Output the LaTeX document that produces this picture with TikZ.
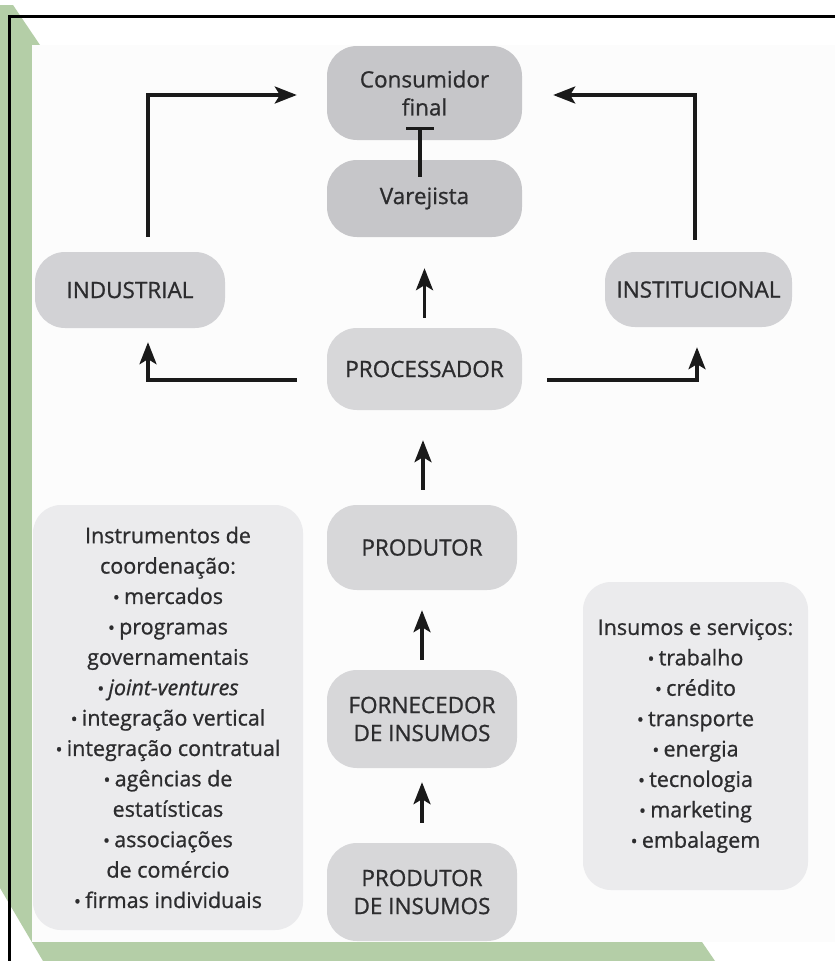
\documentclass[tikz,border=0pt]{standalone}
\usepackage{fontspec}
\setmainfont{Open Sans}[FakeBold=0.9]
\usetikzlibrary{arrows.meta,calc}
\definecolor{grn}{HTML}{B4CEA7}
\definecolor{txt}{HTML}{2C2C2E}
\definecolor{ln}{HTML}{1A1A1A}
\definecolor{dark}{HTML}{C6C6C9}
\definecolor{mid}{HTML}{D2D2D5}
\definecolor{lite}{HTML}{D7D7D9}
\definecolor{info}{HTML}{EBEBED}
\newcommand\bul{\raisebox{0em}{\scalebox{.85}{•}}\hspace{.2em}}
\tikzset{
  box/.style={rounded corners=30pt, inner sep=0pt, align=center, text=txt,
    font=\fontsize{22.5}{28}\selectfont},
  infobox/.style={rounded corners=28pt, inner sep=0pt, align=center, text=txt,
    fill=info, font=\fontsize{21.5}{30.4}\selectfont},
  arr/.style={draw=ln, line width=3.2pt, -{Stealth[length=22pt,width=17pt,inset=5pt]}},
  tbar/.style={draw=ln, line width=3.2pt, -{Bar[width=28pt]}}
}
\begin{document}
\begin{tikzpicture}[x=1pt,y=-1pt]
\useasboundingbox (0,0) rectangle (835,961);
\fill[white] (0,0) rectangle (835,961);
% decorative frame
\fill[grn] (0,5) -- (13,5) -- (40,45) -- (40,942) -- (702,942) -- (715,961) -- (43,961) -- (0,888) -- cycle;
\fill[white!99!black] (32,45) rectangle (835,942);
\draw[black, line width=3pt] (9,961) -- (9,16) -- (835,16);

% nodes
\node[box, fill=dark, minimum width=195pt, minimum height=94pt] (cons) at (424.5,93) {Consumidor\\final};
\node[box, fill=dark, minimum width=195pt, minimum height=77pt] (var) at (424.5,198.5) {Varejista};
\node[box, fill=mid, minimum width=190pt, minimum height=76pt] (ind) at (130,290) {INDUSTRIAL};
\node[box, fill=mid, minimum width=187pt, minimum height=75pt] (inst) at (698.5,289.5) {INSTITUCIONAL};
\node[box, fill=lite, minimum width=195pt, minimum height=82pt] (proc) at (424.5,369) {PROCESSADOR};
\node[box, fill=lite, minimum width=190pt, minimum height=85pt] (prod) at (422,547.5) {PRODUTOR};
\node[box, fill=lite, minimum width=190pt, minimum height=98pt] (forn) at (422,719) {FORNECEDOR\\DE INSUMOS};
\node[box, fill=lite, minimum width=190pt, minimum height=98pt] (pins) at (422,892) {PRODUTOR\\DE INSUMOS};

\node[infobox, minimum width=270pt, minimum height=425pt] (instr) at (168,717.5)
 {Instrumentos de\\coordenação:\\\bul mercados\\\bul programas\\governamentais\\\bul\textit{joint-ventures}\\\bul integração vertical\\\bul integração contratual\\\bul agências de\\estatísticas\\\bul associações\\de comércio\\\bul firmas individuais};
\node[infobox, minimum width=225pt, minimum height=308pt] (insum) at (695.5,736)
 {Insumos e serviços:\\\bul trabalho\\\bul crédito\\\bul transporte\\\bul energia\\\bul tecnologia\\\bul marketing\\\bul embalagem};

% connectors
\draw[tbar] ([xshift=-4.5pt,yshift=-17pt]var.north) -- ([xshift=-4.5pt,yshift=13pt]cons.south);
\draw[arr] ([yshift=10pt]proc.north) -- ([yshift=-31pt]var.south);
\draw[arr] ([xshift=1pt,yshift=15pt]prod.north) -- ($([xshift=1pt]prod.north |- proc.south)+(0,30)$);
\draw[arr] ([yshift=10pt]forn.north) -- ([yshift=-20pt]prod.south);
\draw[arr] ([yshift=20pt]pins.north) -- ([yshift=-14pt]forn.south);
\draw[arr] ([xshift=-30pt,yshift=-11pt]proc.west) -| ([xshift=18pt,yshift=-14pt]ind.south);
\draw[arr] ([xshift=25pt,yshift=-11pt]proc.east) -| ([xshift=-1.5pt,yshift=-20pt]inst.south);
\draw[arr] ([xshift=18pt,yshift=15pt]ind.north) |- ([xshift=-30pt,yshift=-2pt]cons.west);
\draw[arr] ([xshift=-3.5pt,yshift=12pt]inst.north) |- ([xshift=31pt,yshift=-2pt]cons.east);
\end{tikzpicture}
\end{document}
